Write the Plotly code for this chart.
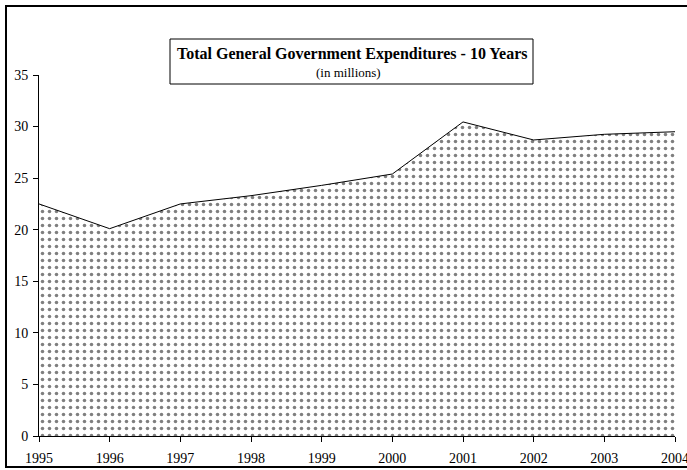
import plotly.graph_objects as go

years = [1995, 1996, 1997, 1998, 1999, 2000, 2001, 2002, 2003, 2004]
expenditures = [22.5, 20.1, 22.5, 23.3, 24.3, 25.4, 30.45, 28.7, 29.25, 29.5]
y_ticks = [0, 5, 10, 15, 20, 25, 30, 35]

W, H = 687, 470
L, R, T, B = 39, 12, 75, 34
pw, ph = W - L - R, H - T - B

def px(x):
    return (x - L) / pw

def py(y):
    return (H - B - y) / ph

fig = go.Figure()
fig.add_trace(go.Scatter(
    x=years, y=expenditures, mode="lines",
    line=dict(color="black", width=1),
    fill="tozeroy",
    fillcolor="white",
    fillpattern=dict(shape=".", size=7, solidity=0.2, fgcolor="black", bgcolor="white"),
    showlegend=False, hoverinfo="x+y",
))

serif = "Liberation Serif, Times New Roman, serif"
font = dict(family=serif, size=14, color="black")

fig.update_layout(
    width=W, height=H,
    margin=dict(l=L, r=R, t=T, b=B, pad=0),
    paper_bgcolor="white", plot_bgcolor="white",
    font=font,
    showlegend=False,
    xaxis=dict(
        range=[1995, 2004], tickmode="array", tickvals=years,
        ticktext=[str(v) for v in years],
        showgrid=False, zeroline=False, showline=True, linecolor="black", linewidth=1,
        ticks="outside", ticklen=5, tickcolor="black", ticklabelstandoff=4,
        ticklabeloverflow="allow", automargin=False,
    ),
    yaxis=dict(
        range=[0, 35], tickmode="array", tickvals=y_ticks,
        showgrid=False, zeroline=False, showline=True, linecolor="black", linewidth=1,
        ticks="outside", ticklen=5, tickcolor="black", ticklabelstandoff=2,
        automargin=False,
    ),
    shapes=[
        dict(type="rect", xref="paper", yref="paper",
             x0=px(6), x1=px(700), y0=py(467), y1=py(6),
             line=dict(color="black", width=2), fillcolor="rgba(0,0,0,0)", layer="above"),
        dict(type="rect", xref="paper", yref="paper",
             x0=px(170), x1=px(533), y0=py(84), y1=py(39),
             line=dict(color="black", width=1), fillcolor="white", layer="above"),
    ],
    annotations=[
        dict(xref="paper", yref="paper", x=px(352), y=py(54), xanchor="center", yanchor="middle",
             text="<b>Total General Government Expenditures - 10 Years</b>", showarrow=False,
             font=dict(family=serif, size=16, color="black")),
        dict(xref="paper", yref="paper", x=px(348), y=py(72), xanchor="center", yanchor="middle",
             text="(in millions)", showarrow=False,
             font=dict(family=serif, size=13, color="black")),
    ],
)

fig.write_html("out.html")
